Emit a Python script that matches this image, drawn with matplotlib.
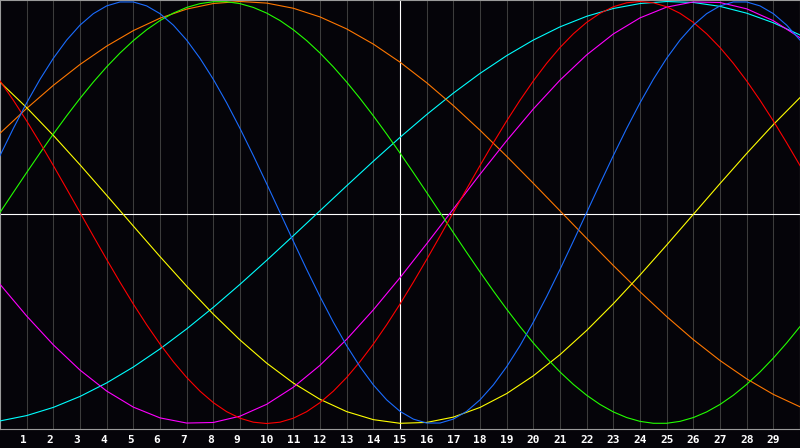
import matplotlib
matplotlib.use('Agg')
import matplotlib.pyplot as plt
from matplotlib.transforms import ScaledTranslation

# day positions along the x axis
days = list(range(31))
half_days = [i / 2 for i in range(61)]
tick_days = list(range(1, 30))

# cycle values
# fast cycles: one value per half day (day 0 .. day 30)
physical = [0.2698, 0.3984, 0.5196, 0.6311, 0.7308, 0.8170, 0.8879, 0.9423, 0.9791, 0.9977,
            0.9977, 0.9791, 0.9423, 0.8879, 0.8170, 0.7308, 0.6311, 0.5196, 0.3984, 0.2698,
            0.1362, 0.0, -0.1362, -0.2698, -0.3984, -0.5196, -0.6311, -0.7308, -0.8170, -0.8879,
            -0.9423, -0.9791, -0.9977, -0.9977, -0.9791, -0.9423, -0.8879, -0.8170, -0.7308, -0.6311,
            -0.5196, -0.3984, -0.2698, -0.1362, 0.0, 0.1362, 0.2698, 0.3984, 0.5196, 0.6311,
            0.7308, 0.8170, 0.8879, 0.9423, 0.9791, 0.9977, 0.9977, 0.9791, 0.9423, 0.8879, 0.8170]
emotional = [0.6235, 0.5320, 0.4339, 0.3303, 0.2225, 0.1120, 0.0, -0.1120, -0.2225, -0.3303,
             -0.4339, -0.5320, -0.6235, -0.7071, -0.7818, -0.8467, -0.9010, -0.9439, -0.9749, -0.9937,
             -1.0, -0.9937, -0.9749, -0.9439, -0.9010, -0.8467, -0.7818, -0.7071, -0.6235, -0.5320,
             -0.4339, -0.3303, -0.2225, -0.1120, 0.0, 0.1120, 0.2225, 0.3303, 0.4339, 0.5320,
             0.6235, 0.7071, 0.7818, 0.8467, 0.9010, 0.9439, 0.9749, 0.9937, 1.0, 0.9937,
             0.9749, 0.9439, 0.9010, 0.8467, 0.7818, 0.7071, 0.6235, 0.5320, 0.4339, 0.3303, 0.2225]
intellectual = [0.0, 0.0951, 0.1893, 0.2817, 0.3717, 0.4582, 0.5406, 0.6182, 0.6901, 0.7557,
                0.8146, 0.8660, 0.9096, 0.9450, 0.9718, 0.9898, 0.9989, 0.9989, 0.9898, 0.9718,
                0.9450, 0.9096, 0.8660, 0.8146, 0.7557, 0.6901, 0.6182, 0.5406, 0.4582, 0.3717,
                0.2817, 0.1893, 0.0951, 0.0, -0.0951, -0.1893, -0.2817, -0.3717, -0.4582, -0.5406,
                -0.6182, -0.6901, -0.7557, -0.8146, -0.8660, -0.9096, -0.9450, -0.9718, -0.9898, -0.9989,
                -0.9989, -0.9898, -0.9718, -0.9450, -0.9096, -0.8660, -0.8146, -0.7557, -0.6901, -0.6182, -0.5406]
# slow cycles: one value per day (day 0 .. day 30)
intuitive = [-0.3403, -0.4905, -0.6272, -0.7468, -0.8461, -0.9223, -0.9733, -0.9978, -0.9951, -0.9652,
             -0.9090, -0.8281, -0.7242, -0.6011, -0.4613, -0.3090, -0.1483, 0.0165, 0.1809, 0.3403,
             0.4905, 0.6272, 0.7468, 0.8461, 0.9223, 0.9733, 0.9978, 0.9951, 0.9652, 0.9090, 0.8281]
aesthetic = [0.6182, 0.4970, 0.3654, 0.2260, 0.0817, -0.0643, -0.2089, -0.3490, -0.4818, -0.6042,
             -0.7138, -0.8082, -0.8854, -0.9436, -0.9817, -0.9990, -0.9949, -0.9697, -0.9238, -0.8581,
             -0.7739, -0.6737, -0.5590, -0.4323, -0.2964, -0.1542, -0.0087, 0.1370, 0.2797, 0.4166, 0.5445]
awareness = [0.3754, 0.4932, 0.6025, 0.7015, 0.7884, 0.8620, 0.9208, 0.9639, 0.9904, 1.0,
             0.9924, 0.9679, 0.9268, 0.8700, 0.7980, 0.7124, 0.6149, 0.5068, 0.3899, 0.2664,
             0.1383, 0.0079, -0.1227, -0.2512, -0.3754, -0.4932, -0.6025, -0.7015, -0.7884, -0.8620, -0.9208]
spiritual = [-0.9878, -0.9624, -0.9236, -0.8717, -0.8076, -0.7322, -0.6465, -0.5517, -0.4493, -0.3404,
             -0.2268, -0.1100, 0.0083, 0.1265, 0.2429, 0.3560, 0.4640, 0.5656, 0.6591, 0.7433,
             0.8172, 0.8797, 0.9298, 0.9668, 0.9902, 0.9998, 0.9953, 0.9768, 0.9446, 0.8992, 0.8412]

bg = '#050409'

fig = plt.figure(figsize=(8, 4.48), dpi=100, facecolor=bg)
ax = fig.add_axes([0, 19 / 448, 1, 429 / 448], facecolor=bg)

ax.set_xlim(0, 30)
ax.set_ylim(-1.026, 1.007)

# day grid
for d in tick_days:
    ax.axvline(d, color='#3c3c3c', linewidth=0.75, zorder=1)
ax.axvline(15, color='white', linewidth=0.8, zorder=2)
ax.axhline(-0.006, color='white', linewidth=0.8, zorder=2)

series = [
    (days, spiritual, '#00ffff'),
    (days, awareness, '#ff7700'),
    (days, aesthetic, '#ffff00'),
    (days, intuitive, '#ff00ff'),
    (half_days, intellectual, '#22ff00'),
    (half_days, emotional, '#ff0000'),
    (half_days, physical, '#1a6cff'),
]
for xs, vals, col in series:
    ax.plot(xs, vals, color=col, linewidth=0.8, zorder=3)

ax.set_yticks([])
ax.set_xticks(tick_days)
ax.set_xticklabels([str(d) for d in tick_days], color='white', fontsize=8,
                   fontweight='bold', family='DejaVu Sans Mono', ha='left')
ax.tick_params(axis='x', length=0, pad=4.5)
shift = ScaledTranslation(-6.5 / 100, 0, fig.dpi_scale_trans)
for lab in ax.get_xticklabels():
    lab.set_transform(lab.get_transform() + shift)

for side in ax.spines.values():
    side.set_color('#9a9a9a')
    side.set_linewidth(0.8)

fig.savefig('out.png', dpi=100, facecolor=bg)
plt.close(fig)
